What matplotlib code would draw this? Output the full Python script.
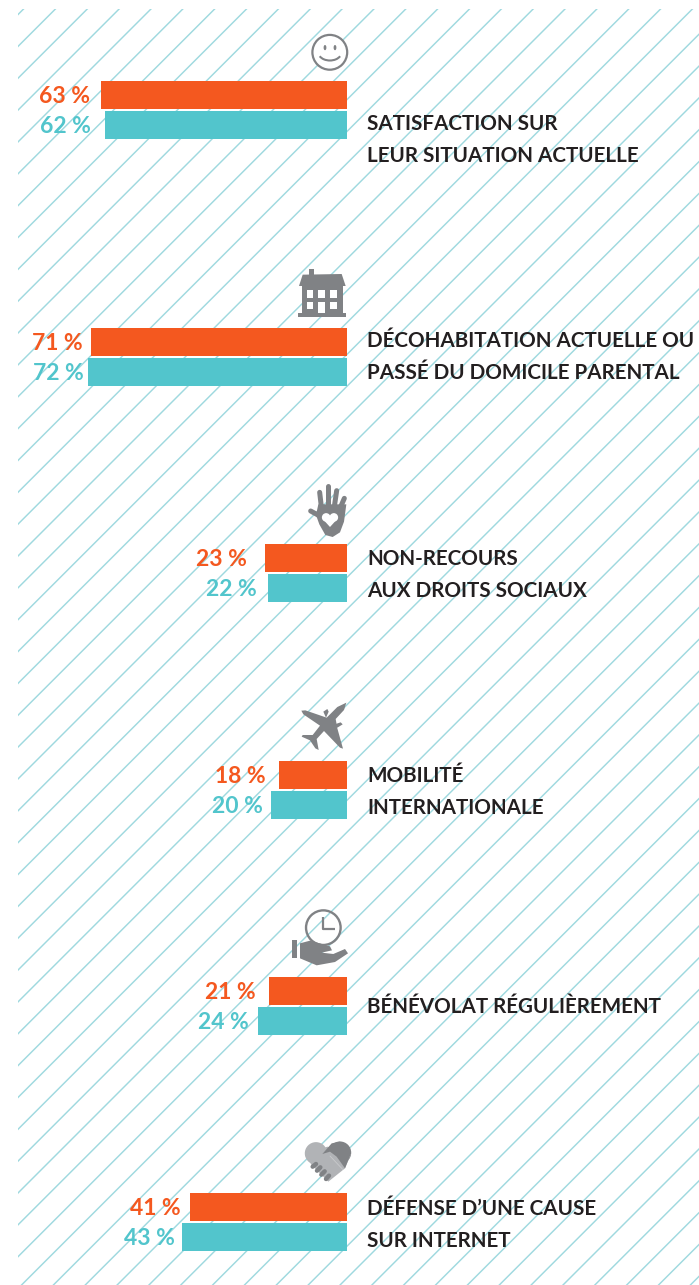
import numpy as np
import matplotlib
matplotlib.use("Agg")
import matplotlib.pyplot as plt
from matplotlib.patches import Rectangle, Circle, Ellipse, Polygon, Arc

plt.rcParams['font.family'] = ['Lato', 'DejaVu Sans']

# values
labels = [
    "SATISFACTION SUR\nLEUR SITUATION ACTUELLE",
    "DÉCOHABITATION ACTUELLE OU\nPASSÉ DU DOMICILE PARENTAL",
    "NON-RECOURS\nAUX DROITS SOCIAUX",
    "MOBILITÉ\nINTERNATIONALE",
    "BÉNÉVOLAT RÉGULIÈREMENT",
    "DÉFENSE D’UNE CAUSE\nSUR INTERNET",
]
orange_vals = [63, 71, 23, 18, 21, 41]
teal_vals = [62, 72, 22, 20, 24, 43]

# each panel of the original has its own scale (px per point)
panel_scale = [3.91, 3.60, 3.58, 3.80, 3.71, 3.83]
panel_top = [80, 327, 543, 760, 976, 1192]
text_base = [130, 347, 565, 782, 1013, 1215]

# gap between bar end and its label, in points
orange_gap = [7.5, 6.5, 12.5, 9.5, 10, 7]
teal_gap = [10, 3, 8.5, 5.5, 6.5, 5.5]

ORANGE = '#f4581f'
TEAL = '#52c5cc'
GREY = '#808285'
LIGHT = '#b1b3b6'
LINE = '#9fd9df'
INK = '#231f20'

W, H = 699, 1285
fig = plt.figure(figsize=(W / 100, H / 100), dpi=100)

# background axes in pixels, for hatching, icons and captions
bg = fig.add_axes([0, 0, 1, 1])
bg.set_xlim(0, W)
bg.set_ylim(H, 0)
bg.axis('off')

clip = Rectangle((18, 9), W - 18, H - 9, transform=bg.transData)
for k in np.arange(0.7, W + H + 40, 31.85):
    ln, = bg.plot([k - H - 10, k + 10], [H + 10, -10], color=LINE, lw=1.05, zorder=1)
    ln.set_clip_path(clip)


def zp(x0, y0, pts):
    return [(x0 + a / 3, y0 + b / 3) for a, b in pts]


def stroke(x0, y0, pts, color=GREY, lw=3.6, cap='round', z=3):
    p = zp(x0, y0, pts)
    bg.plot([a for a, b in p], [b for a, b in p], color=color, lw=lw,
            solid_capstyle=cap, solid_joinstyle='round', zorder=z)


def poly(x0, y0, pts, color=GREY, z=3):
    bg.add_patch(Polygon(zp(x0, y0, pts), closed=True, fc=color, ec='none', zorder=z))


def heart(x0, y0, cx, cy, s, color):
    poly(x0, y0, [(cx - s, cy - s * 0.1), (cx + s, cy - s * 0.1), (cx, cy + s)], color, 4)
    for sx in (-1, 1):
        bg.add_patch(Circle((x0 + (cx + sx * s * 0.5) / 3, y0 + (cy - s * 0.25) / 3),
                            s * 0.56 / 3, fc=color, ec='none', zorder=4))


# smiley
bg.add_patch(Circle((329.8, 52.3), 17.4, fc='white', ec=GREY, lw=1.6, zorder=3))
bg.add_patch(Ellipse((325, 47.6), 2.8, 5.2, fc=GREY, zorder=4))
bg.add_patch(Ellipse((335, 47.6), 2.8, 5.2, fc=GREY, zorder=4))
bg.add_patch(Arc((329.9, 52.5), 23, 16, theta1=20, theta2=160, ec=GREY, lw=1.5, zorder=4))

# house
poly(280, 260, [(87, 45), (87, 28), (101, 28), (101, 45)])
poly(280, 260, [(57, 78), (68, 44), (185, 42), (197, 78)])
poly(280, 260, [(65, 78), (190, 78), (190, 160), (65, 160)])
poly(280, 260, [(55, 160), (197, 160), (197, 170), (55, 170)])
for xa in (80, 115, 150):
    poly(280, 260, [(xa, 91), (xa + 20, 91), (xa + 20, 113), (xa, 113)], 'white', 4)
for xa, yb in ((80, 148), (115, 160), (150, 148)):
    poly(280, 260, [(xa, 125), (xa + 20, 125), (xa + 20, yb), (xa, yb)], 'white', 4)

# hand with heart
for seg in ([(132, 130), (92, 108)], [(124, 95), (119, 52)], [(143, 95), (143, 34)],
            [(163, 95), (170, 47)], [(180, 100), (193, 70)]):
    stroke(280, 475, seg)
poly(280, 475, [(115, 88), (199, 88), (192, 140), (180, 172), (158, 186),
                (136, 180), (118, 148), (108, 120)])
heart(280, 475, 150, 133, 23, 'white')

# plane
poly(280, 695, [(199, 23), (192, 45), (167, 72), (172, 100), (189, 161), (180, 158),
                (132, 108), (110, 132), (116, 165), (106, 160), (90, 136), (65, 125),
                (68, 120), (98, 120), (120, 92), (70, 58), (64, 47), (76, 46), (140, 68),
                (172, 36)])
poly(280, 695, [(130, 50), (142, 42), (146, 50), (138, 68)])
poly(280, 695, [(164, 88), (182, 82), (188, 88), (172, 98)])

# clock over open hand
bg.add_patch(Circle((280 + 130 / 3, 905 + 68 / 3), 17.3, fc='none', ec=GREY, lw=1.7, zorder=3))
stroke(280, 905, [(130, 35), (130, 72), (165, 72)], lw=1.6, cap='butt')
poly(280, 905, [(36, 105), (52, 105), (52, 158), (36, 158)])
poly(280, 905, [(60, 115), (90, 107), (150, 124), (156, 136), (125, 143), (160, 147), (195, 132),
                (204, 145), (165, 171), (110, 181), (60, 160)])

# handshake heart
bg.add_patch(Circle((290 + 78 / 3, 1130 + 70 / 3), 11.2, fc=LIGHT, ec='none', zorder=3))
bg.add_patch(Circle((290 + 150 / 3, 1130 + 68 / 3), 11.2, fc=GREY, ec='none', zorder=3))
poly(290, 1130, [(45, 75), (112, 50), (183, 72), (165, 115), (115, 155), (65, 105)], LIGHT)
poly(290, 1130, [(97, 72), (125, 40), (150, 35), (183, 70), (165, 115), (140, 80), (120, 65)])
for seg in ([(68, 110), (78, 102)], [(81, 122), (91, 112)], [(94, 134), (104, 124)],
            [(108, 147), (117, 137)]):
    stroke(290, 1130, seg, lw=3.2, z=4)
stroke(290, 1130, [(120, 78), (158, 118)], color='#c9cacc', lw=0.6, z=4)

# captions
for txt, yb in zip(labels, text_base):
    for i, line in enumerate(txt.split("\n")):
        bg.text(367, yb + i * 31.7, line, fontsize=14.9, fontweight='bold', color=INK,
                ha='left', va='baseline', zorder=5)

# one small axes per group, value 0 at the common right edge
for i in range(len(labels)):
    ax = fig.add_axes([0, 1 - (panel_top[i] + 60) / H, 347 / W, 60 / H])
    ax.patch.set_alpha(0)
    ax.axis('off')
    ax.barh([0, 1], [orange_vals[i], teal_vals[i]], height=0.94, color=[ORANGE, TEAL])
    ax.set_xlim(347 / panel_scale[i], 0)
    ax.set_ylim(1.5, -0.5)
    for y, v, c, g in ((0, orange_vals[i], ORANGE, orange_gap[i]), (1, teal_vals[i], TEAL, teal_gap[i])):
        ax.annotate(f"{v} %", (v, y), xytext=(-g, -5.5), textcoords='offset points',
                    ha='right', va='baseline', fontsize=16.5, fontweight='bold', color=c)

fig.savefig('out.png', dpi=100)
